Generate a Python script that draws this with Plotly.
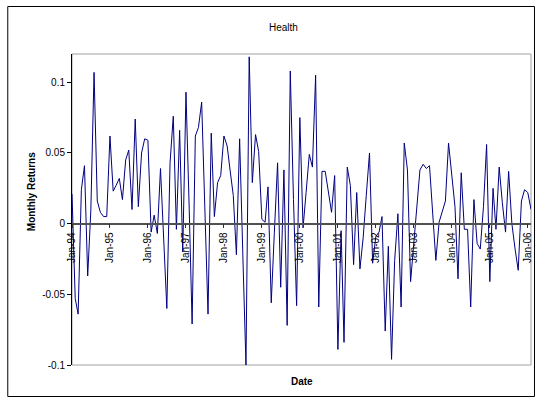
import pandas as pd
import plotly.graph_objects as go

# Monthly returns of the health sector, Jan 1994 onwards
returns = [
    0.021, -0.053, -0.064, 0.024, 0.041, -0.037, 0.009, 0.107, 0.016, 0.008, 0.005, 0.005,
    0.062, 0.023, 0.027, 0.032, 0.017, 0.045, 0.052, 0.010, 0.074, 0.012, 0.050, 0.060,
    0.059, -0.006, 0.006, -0.007, 0.039, -0.010, -0.060, 0.043, 0.076, -0.004, 0.066, -0.020,
    0.093, 0.011, -0.071, 0.062, 0.068, 0.086, 0.011, -0.064, 0.064, 0.005, 0.029, 0.034,
    0.062, 0.055, 0.038, 0.020, -0.022, 0.060, -0.020, -0.100, 0.118, 0.029, 0.063, 0.051,
    0.003, 0.001, 0.026, -0.056, -0.006, 0.043, -0.045, 0.038, -0.072, 0.108, 0.017, -0.058,
    0.075, -0.003, 0.022, 0.049, 0.040, 0.105, -0.059, 0.037, 0.037, 0.023, 0.008, 0.034,
    -0.089, -0.005, -0.084, 0.040, 0.027, -0.029, 0.022, -0.032, -0.010, 0.020, 0.050, -0.028,
    -0.009, -0.006, 0.005, -0.076, -0.016, -0.096, -0.026, 0.007, -0.059, 0.057, 0.038, -0.041,
    -0.013, 0.013, 0.038, 0.042, 0.039, 0.041, 0.008, -0.026, 0.001, 0.008, 0.016, 0.057,
    0.034, 0.012, -0.039, 0.036, -0.004, -0.004, -0.059, 0.017, -0.014, -0.018, 0.012, 0.056,
    -0.041, 0.025, -0.004, 0.040, 0.015, -0.006, 0.037, 0.000, -0.018, -0.033, 0.016, 0.024,
    0.022, 0.010,
]
dates = pd.date_range("1994-01-01", periods=len(returns), freq="MS")

y_ticks = [-0.1, -0.05, 0, 0.05, 0.1]
y_tick_labels = ["-0.1", "-0.05", "0", "0.05", "0.1"]
y_range = [-0.1, 0.12]

W, H = 541, 398
L, R, T, B = 72, 8, 54, 33
pw, ph = W - L - R, H - T - B


def px_x(p):
    return (p - L) / pw


def px_y(p):
    return (H - B - p) / ph


FONT = "Liberation Sans, Arial, sans-serif"

fig = go.Figure(
    go.Scatter(
        x=dates, y=returns, mode="lines",
        line=dict(color="#000080", width=1),
        hoverinfo="x+y",
    )
)

zero_pos = (0 - y_range[0]) / (y_range[1] - y_range[0])

fig.update_layout(
    width=W, height=H,
    margin=dict(l=L, r=R, t=T, b=B, pad=0),
    paper_bgcolor="white", plot_bgcolor="white",
    showlegend=False,
    font=dict(family=FONT, size=10, color="black"),
    xaxis=dict(
        range=[dates[0], dates[-1]],
        anchor="free", position=zero_pos,
        showgrid=False, zeroline=False,
        showline=True, linecolor="#505050", linewidth=1.5,
        ticks="outside", ticklen=4, tickcolor="#303030", tickwidth=1,
        tick0="1994-01-01", dtick="M12", tickformat="%b-%y",
        tickangle=-90, tickfont=dict(size=10, family=FONT),
    ),
    yaxis=dict(
        range=y_range, domain=[0, 1],
        showgrid=False, zeroline=False,
        showline=True, linecolor="black", linewidth=1,
        ticks="outside", ticklen=4, tickcolor="black",
        tickvals=y_ticks, ticktext=y_tick_labels,
        tickfont=dict(size=10, family=FONT),
    ),
    shapes=[
        # plot-area frame
        dict(type="rect", xref="paper", yref="paper", x0=0, x1=1, y0=0, y1=1,
             line=dict(color="#a0a0a0", width=1), layer="below"),
        # chart-area frame
        dict(type="rect", xref="paper", yref="paper",
             x0=px_x(7.5), x1=px_x(536.5), y0=px_y(396.5), y1=px_y(6.5),
             line=dict(color="black", width=1), layer="above"),
    ],
    annotations=[
        dict(text="Health", xref="paper", yref="paper", x=px_x(284), y=px_y(28),
             showarrow=False, font=dict(size=10, family=FONT), xanchor="center", yanchor="middle"),
        dict(text="<b>Monthly Returns</b>", xref="paper", yref="paper", x=px_x(31), y=px_y(192),
             showarrow=False, textangle=-90, font=dict(size=10, family=FONT),
             xanchor="center", yanchor="middle"),
        dict(text="<b>Date</b>", xref="paper", yref="paper", x=px_x(303), y=px_y(381),
             showarrow=False, font=dict(size=10, family=FONT), xanchor="center", yanchor="middle"),
    ],
)

fig.write_html("out.html")
